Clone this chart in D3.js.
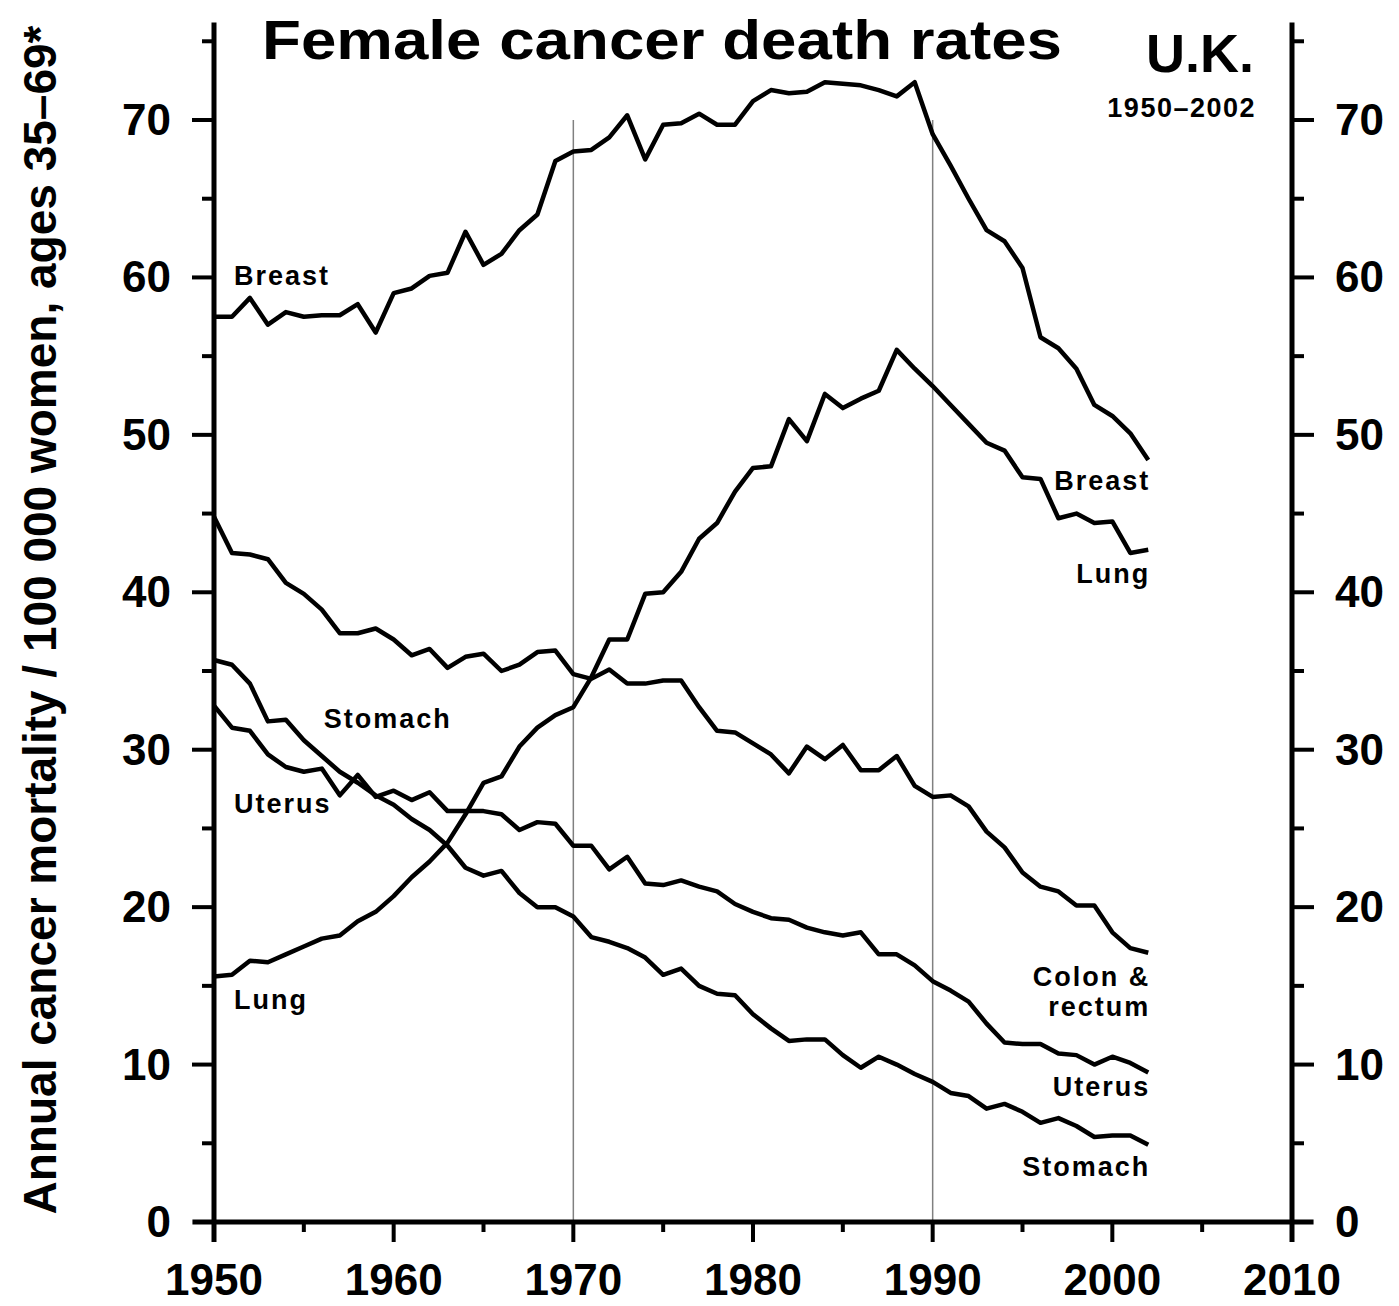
<!DOCTYPE html>
<html>
<head>
<meta charset="utf-8">
<script src="https://cdn.jsdelivr.net/npm/d3@7"></script>
<style>
  body { margin: 0; background: #fff; }
  svg text { font-family: "Liberation Sans", Arial, Helvetica, sans-serif; fill: #000; }
</style>
</head>
<body>
<div id="chart-div"></div>
<script>
// Years 1950..2002, one value per year.
var years = d3.range(1950, 2003);

var breast = [57.5, 57.5, 58.7, 57.0, 57.8, 57.5, 57.6, 57.6, 58.3, 56.5,
              59.0, 59.3, 60.1, 60.3, 62.9, 60.8, 61.5, 63.0, 64.0, 67.4,
              68.0, 68.1, 68.9, 70.3, 67.5, 69.7, 69.8, 70.4, 69.7, 69.7,
              71.2, 71.9, 71.7, 71.8, 72.4, 72.3, 72.2, 71.9, 71.5, 72.4,
              69.1, 67.1, 65.0, 63.0, 62.3, 60.6, 56.2, 55.5, 54.2, 51.9,
              51.2, 50.1, 48.4];

var lung = [15.6, 15.7, 16.6, 16.5, 17.0, 17.5, 18.0, 18.2, 19.1, 19.7,
            20.7, 21.9, 22.9, 24.1, 25.9, 27.9, 28.3, 30.2, 31.4, 32.2,
            32.7, 34.6, 37.0, 37.0, 39.9, 40.0, 41.3, 43.4, 44.4, 46.4,
            47.9, 48.0, 51.0, 49.6, 52.6, 51.7, 52.3, 52.8, 55.4, 54.2,
            53.1, 51.9, 50.7, 49.5, 49.0, 47.3, 47.2, 44.7, 45.0, 44.4,
            44.5, 42.5, 42.7];

var colon = [44.8, 42.5, 42.4, 42.1, 40.6, 39.9, 38.9, 37.4, 37.4, 37.7,
             37.0, 36.0, 36.4, 35.2, 35.9, 36.1, 35.0, 35.4, 36.2, 36.3,
             34.8, 34.5, 35.1, 34.2, 34.2, 34.4, 34.4, 32.7, 31.2, 31.1,
             30.4, 29.7, 28.5, 30.2, 29.4, 30.3, 28.7, 28.7, 29.6, 27.7,
             27.0, 27.1, 26.4, 24.8, 23.8, 22.2, 21.3, 21.0, 20.1, 20.1,
             18.4, 17.4, 17.1];

var uterus = [32.8, 31.4, 31.2, 29.7, 28.9, 28.6, 28.8, 27.1, 28.4, 27.0,
              27.4, 26.8, 27.3, 26.1, 26.1, 26.1, 25.9, 24.9, 25.4, 25.3,
              23.9, 23.9, 22.4, 23.2, 21.5, 21.4, 21.7, 21.3, 21.0, 20.2,
              19.7, 19.3, 19.2, 18.7, 18.4, 18.2, 18.4, 17.0, 17.0, 16.3,
              15.3, 14.7, 14.0, 12.6, 11.4, 11.3, 11.3, 10.7, 10.6, 10.0,
              10.5, 10.1, 9.5];

var stomach = [35.7, 35.4, 34.2, 31.8, 31.9, 30.6, 29.6, 28.6, 27.9, 27.1,
               26.5, 25.6, 24.9, 23.9, 22.5, 22.0, 22.3, 20.9, 20.0, 20.0,
               19.4, 18.1, 17.8, 17.4, 16.8, 15.7, 16.1, 15.0, 14.5, 14.4,
               13.2, 12.3, 11.5, 11.6, 11.6, 10.6, 9.8, 10.5, 10.0, 9.4,
               8.9, 8.2, 8.0, 7.2, 7.5, 7.0, 6.3, 6.6, 6.1, 5.4,
               5.5, 5.5, 4.9];

var xTicks = [1950, 1960, 1970, 1980, 1990, 2000, 2010];
var xMinor = [1955, 1965, 1975, 1985, 1995, 2005];
var yTicks = [0, 10, 20, 30, 40, 50, 60, 70];
var yMinor = [5, 15, 25, 35, 45, 55, 65, 75];
var refYears = [1970, 1990];

// series labels, anchored in data units
var leftLabels = [
    {text: "Breast",  year: 1950, value: 59.5},
    {text: "Stomach", year: 1955, value: 31.4},
    {text: "Uterus",  year: 1950, value: 26.0},
    {text: "Lung",    year: 1950, value: 13.5}
];
var rightLabels = [
    {text: "Breast",  year: 2002, value: 46.5},
    {text: "Lung",    year: 2002, value: 40.6},
    {text: "Colon &", year: 2002, value: 15.0},
    {text: "rectum",  year: 2002, value: 13.1},
    {text: "Uterus",  year: 2002, value: 8.0},
    {text: "Stomach", year: 2002, value: 2.9}
];

var chart = { width: 1399, height: 1306 };

var svg = d3.select("#chart-div").append("svg")
    .attr("width", chart.width)
    .attr("height", chart.height);

var x = d3.scaleLinear().domain([1950, 2010]).range([214, 1292]);
var y = d3.scaleLinear().domain([0, 70]).range([1222, 120]);

// vertical reference lines
svg.selectAll(".ref")
    .data(refYears)
    .enter().append("line")
    .attr("x1", function(d) { return x(d); })
    .attr("x2", function(d) { return x(d); })
    .attr("y1", y(70))
    .attr("y2", y(0))
    .attr("stroke", "#808080")
    .attr("stroke-width", 1.5);

// axis lines
var axisTop = y(76.2);
svg.append("line")
    .attr("x1", x(1950)).attr("x2", x(1950))
    .attr("y1", axisTop).attr("y2", y(0) + 20)
    .attr("stroke", "#000").attr("stroke-width", 5);
svg.append("line")
    .attr("x1", x(2010)).attr("x2", x(2010))
    .attr("y1", axisTop).attr("y2", y(0) + 20)
    .attr("stroke", "#000").attr("stroke-width", 5);
svg.append("line")
    .attr("x1", x(1948.8)).attr("x2", x(2011.2))
    .attr("y1", y(0)).attr("y2", y(0))
    .attr("stroke", "#000").attr("stroke-width", 5);

// y ticks, both sides
function yTickLines(vals, len) {
    svg.selectAll(null).data(vals).enter().append("line")
        .attr("x1", x(1950) - len).attr("x2", x(1950))
        .attr("y1", function(d) { return y(d); })
        .attr("y2", function(d) { return y(d); })
        .attr("stroke", "#000").attr("stroke-width", 4);
    svg.selectAll(null).data(vals).enter().append("line")
        .attr("x1", x(2010)).attr("x2", x(2010) + len)
        .attr("y1", function(d) { return y(d); })
        .attr("y2", function(d) { return y(d); })
        .attr("stroke", "#000").attr("stroke-width", 4);
}
yTickLines(yTicks.filter(function(d) { return d > 0; }), 22);
yTickLines(yMinor, 12);

// x ticks
svg.selectAll(null).data(xTicks).enter().append("line")
    .attr("x1", function(d) { return x(d); })
    .attr("x2", function(d) { return x(d); })
    .attr("y1", y(0)).attr("y2", y(0) + 20)
    .attr("stroke", "#000").attr("stroke-width", 4);
svg.selectAll(null).data(xMinor).enter().append("line")
    .attr("x1", function(d) { return x(d); })
    .attr("x2", function(d) { return x(d); })
    .attr("y1", y(0)).attr("y2", y(0) + 10)
    .attr("stroke", "#000").attr("stroke-width", 4);

// tick labels
svg.selectAll(null).data(yTicks).enter().append("text")
    .attr("x", 171)
    .attr("y", function(d) { return y(d) + 15; })
    .attr("text-anchor", "end")
    .attr("font-size", 44).attr("font-weight", "bold")
    .text(function(d) { return d; });
svg.selectAll(null).data(yTicks).enter().append("text")
    .attr("x", 1335)
    .attr("y", function(d) { return y(d) + 15; })
    .attr("text-anchor", "start")
    .attr("font-size", 44).attr("font-weight", "bold")
    .text(function(d) { return d; });
svg.selectAll(null).data(xTicks).enter().append("text")
    .attr("x", function(d) { return x(d); })
    .attr("y", 1295)
    .attr("text-anchor", "middle")
    .attr("font-size", 44).attr("font-weight", "bold")
    .text(function(d) { return d; });

// series lines
var series = [breast, lung, colon, uterus, stomach];
var line = d3.line()
    .x(function(d, i) { return x(years[i]); })
    .y(function(d) { return y(d); });

svg.selectAll(".series")
    .data(series)
    .enter().append("path")
    .attr("class", "series")
    .attr("d", line)
    .attr("fill", "none")
    .attr("stroke", "#000")
    .attr("stroke-width", 4.5)
    .attr("stroke-linejoin", "round");

// series labels
svg.selectAll(".lbl-left")
    .data(leftLabels)
    .enter().append("text")
    .attr("class", "lbl-left")
    .attr("x", function(d) { return x(d.year) + 20; })
    .attr("y", function(d) { return y(d.value); })
    .attr("font-size", 27).attr("font-weight", "bold")
    .attr("letter-spacing", 2)
    .text(function(d) { return d.text; });

svg.selectAll(".lbl-right")
    .data(rightLabels)
    .enter().append("text")
    .attr("class", "lbl-right")
    .attr("x", function(d) { return x(d.year) + 2; })
    .attr("y", function(d) { return y(d.value); })
    .attr("text-anchor", "end")
    .attr("font-size", 27).attr("font-weight", "bold")
    .attr("letter-spacing", 2)
    .text(function(d) { return d.text; });

// titles
svg.append("text")
    .attr("x", 662).attr("y", 59)
    .attr("text-anchor", "middle")
    .attr("font-size", 56).attr("font-weight", "bold")
    .attr("textLength", 800)
    .attr("lengthAdjust", "spacingAndGlyphs")
    .text("Female cancer death rates");

svg.append("text")
    .attr("x", 1254).attr("y", 72)
    .attr("text-anchor", "end")
    .attr("font-size", 54).attr("font-weight", "bold")
    .text("U.K.");

svg.append("text")
    .attr("x", 1256).attr("y", 117)
    .attr("text-anchor", "end")
    .attr("font-size", 27).attr("font-weight", "bold")
    .attr("letter-spacing", 1.5)
    .text("1950\u20132002");

svg.append("text")
    .attr("transform", "translate(56,620) rotate(-90)")
    .attr("text-anchor", "middle")
    .attr("font-size", 46).attr("font-weight", "bold")
    .text("Annual cancer mortality / 100 000 women, ages 35\u201369*");
</script>
</body>
</html>
